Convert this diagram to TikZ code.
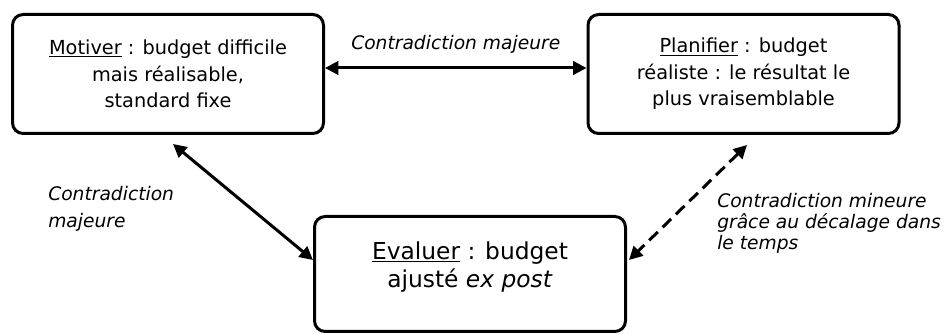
\documentclass[tikz,border=0pt]{standalone}
\usepackage{fontspec}
\setmainfont{DejaVu Sans}
\usetikzlibrary{arrows.meta,calc}

\begin{document}
\begin{tikzpicture}[x=0.75pt,y=-0.75pt,
  boite/.style={shape=rectangle,draw=black,line width=2.25pt,rounded corners=8pt,align=center,inner sep=0pt,minimum width=311*0.75pt},
  fleche/.style={line width=2.25pt,{Triangle[length=10pt,width=10pt]}-{Triangle[length=10pt,width=10pt]}},
  etiquette/.style={font=\fontsize{14}{15.5}\selectfont\itshape,align=left,inner sep=0pt}]
  \useasboundingbox (0,0) rectangle (946,334);

  \node[boite,minimum height=119*0.75pt,font=\fontsize{14.5}{20}\selectfont] (motiver) at (168,74) {\underline{Motiver} : budget difficile\\mais réalisable,\\standard fixe};
  \node[boite,minimum height=119*0.75pt,font=\fontsize{14.5}{20}\selectfont] (planifier) at (743.5,74) {\underline{Planifier} : budget\\réaliste : le résultat le\\plus vraisemblable};
  \node[boite,minimum height=115*0.75pt,font=\fontsize{17.5}{21}\selectfont,text depth=14pt] (evaluer) at (470,274) {\underline{Evaluer} : budget\\ajusté \textit{ex post}};

  \node[etiquette,anchor=north west] (contraMajeure) at (48,186.5) {Contradiction\\[4.5pt]majeure};
  \node[etiquette,anchor=north west] (contraMineure) at (717,193.5) {Contradiction mineure\\grâce au décalage dans\\le temps};

  \path [fleche] ($(motiver.east)+(0,-6)$) edge node[etiquette,above=10pt] {Contradiction majeure} ($(planifier.west)+(0,-6)$);
  \path [fleche] ($(motiver.south)+(5,9)$) edge ($(evaluer.west)+(0,-14)$);
  \path [fleche,dash pattern=on 9pt off 5pt] ($(planifier.south)+(3.5,10)$) edge ($(evaluer.east)+(2,-14)$);
\end{tikzpicture}
\end{document}
